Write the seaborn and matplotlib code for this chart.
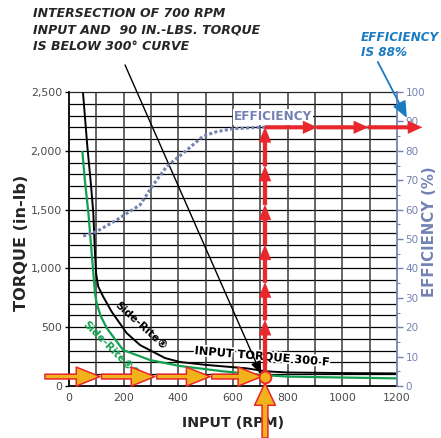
import matplotlib
matplotlib.use("Agg")
import matplotlib.pyplot as plt
import matplotlib.patheffects as pe
import seaborn as sns

sns.set_style("white")
plt.rcParams['font.family'] = ['DejaVu Sans']

# curves
side_rite_rpm = [51, 67, 80, 89, 94, 99, 107, 125, 156, 211, 260, 351, 406, 503, 650, 720, 800, 1000, 1200]
side_rite_torque = [2500, 2040, 1720, 1470, 1180, 960, 845, 760, 632, 450, 348, 238, 204, 179, 150, 125, 115, 110, 107]

side_rite_ct_rpm = [49, 58, 71, 83, 95, 101, 115, 138, 198, 296, 406, 563, 700, 800, 1000, 1200]
side_rite_ct_torque = [1990, 1750, 1470, 1130, 790, 706, 600, 493, 306, 221, 170, 125, 95, 80, 72, 65]

eff_rpm = [52, 100, 175, 193, 260, 308, 357, 424, 491, 540, 600, 700, 800, 1000, 1200]
eff_pct = [51, 52.5, 56.5, 57.6, 61.6, 68.4, 74.6, 79.7, 85, 86.5, 87.5, 88, 88, 88, 88]

# example reading: 700 rpm input, 90 in-lb torque -> 88 % efficiency
point_rpm = 717
point_torque = 80
point_eff = 88
input_arrow_tips = [113, 314, 516, 705]
input_arrow_starts = [-88, 119, 321, 522]
torque_arrow_tips = [560, 880, 1200, 1540, 1870, 2200]
eff_arrow_tips = [907, 1093, 1291]

x_ticks = [0, 200, 400, 600, 800, 1000, 1200]
y_ticks = [0, 500, 1000, 1500, 2000, 2500]
y_tick_labels = ['0', '500', '1,000', '1,500', '2,000', '2,500']
eff_ticks = [0, 10, 20, 30, 40, 50, 60, 70, 80, 90, 100]

slate = '#7382b3'
red = '#e8262b'
orange = '#f2b21b'
blue = '#1b7bc0'
green = '#12a050'

W, H = 441, 438
fig = plt.figure(figsize=(W / 100, H / 100), dpi=100)
renderer = fig.canvas.get_renderer()


def fit(txt, width_px):
    # scale the font so the text spans roughly the width seen on the reference
    rot = txt.get_rotation()
    txt.set_rotation(0)
    w = txt.get_window_extent(renderer).width
    txt.set_fontsize(txt.get_fontsize() * width_px / w)
    txt.set_rotation(rot)
    return txt


# tick label size, from the width of "2,500"
probe = fig.text(0, 0, '2,500', fontsize=10)
tick_size = 10 * 31 / probe.get_window_extent(renderer).width
probe.remove()

ax = fig.add_axes([69 / W, 52 / H, 328 / W, 294 / H])

# chart grid
for t in range(100, 2500, 100):
    ax.axhline(t, color='black', lw=0.9, zorder=1)
for r in range(100, 1200, 100):
    ax.axvline(r, color='#3a3a3a', lw=1.1, zorder=1)

sns.lineplot(x=side_rite_rpm, y=side_rite_torque, ax=ax, color='black', lw=1.4, zorder=3)
sns.lineplot(x=side_rite_ct_rpm, y=side_rite_ct_torque, ax=ax, color=green, lw=1.6, zorder=3)

ax.set_xlim(0, 1200)
ax.set_ylim(0, 2500)
ax.set_xticks(x_ticks)
ax.set_xticks(range(0, 1201, 25), minor=True)
ax.set_yticks(y_ticks)
ax.set_yticklabels(y_tick_labels)
ax.set_xlabel('')
ax.set_ylabel('')
ax.tick_params(axis='both', which='major', labelsize=tick_size, labelcolor='#4a4a4a',
               length=3, width=1, color='black', direction='out', pad=2)
ax.tick_params(axis='x', which='minor', length=2, width=0.8, color='black')
for side in ['left', 'bottom']:
    ax.spines[side].set_color('black')
    ax.spines[side].set_linewidth(1.3)
ax.spines['top'].set_linewidth(0.9)
ax.spines['right'].set_visible(False)

ax2 = ax.twinx()
sns.lineplot(x=eff_rpm, y=eff_pct, ax=ax2, color=slate, lw=2.2,
             linestyle=(0, (1, 0.75)), zorder=3)
ax2.set_ylim(0, 100)
ax2.set_xlim(0, 1200)
ax2.set_yticks(eff_ticks)
ax2.set_yticks(range(0, 101, 5), minor=True)
ax2.set_ylabel('')
ax2.tick_params(axis='y', which='major', labelsize=tick_size * 0.95, colors=slate,
                length=4, width=1, pad=2)
ax2.tick_params(axis='y', which='minor', colors=slate, length=2.5, width=0.8)
for side in ['left', 'bottom', 'top']:
    ax2.spines[side].set_visible(False)
ax2.spines['right'].set_color(slate)
ax2.spines['right'].set_linewidth(1.3)


def arrow(axis, start, end, fc, ec, tail, hw, hl, lw=0.8, z=6):
    axis.annotate('', xy=end, xytext=start, annotation_clip=False, zorder=z,
                  arrowprops=dict(arrowstyle=f'simple,tail_width={tail},head_width={hw},head_length={hl}',
                                  fc=fc, ec=ec, lw=lw, shrinkA=0, shrinkB=0, mutation_scale=10))


# input torque arrows coming from the left
for s, t in zip(input_arrow_starts, input_arrow_tips):
    arrow(ax, (s, point_torque), (t, point_torque), orange, red, 0.34, 1.37, 1.7, lw=1.1)
# input rpm arrow coming from below
arrow(ax, (point_rpm, -442), (point_rpm, 25), orange, red, 0.42, 1.5, 1.6, lw=1.1)

# red arrows up to the efficiency curve
prev = point_torque
for t in torque_arrow_tips:
    arrow(ax, (point_rpm, prev), (point_rpm, t), red, red, 0.28, 0.86, 1.08, lw=0.3)
    prev = t
prev = point_rpm
for t in eff_arrow_tips:
    arrow(ax2, (prev, point_eff), (t, point_eff), red, red, 0.26, 0.9, 1.0, lw=0.3)
    prev = t

ax.plot(point_rpm, point_torque, 'o', ms=8.5, mfc=orange, mec=red, mew=1.3,
        zorder=9, clip_on=False)

# labels on the curves
fit(ax.text(262, 515, 'Side-Rite®', rotation=-42, ha='center', va='center',
            fontsize=10, fontweight='bold', color='black', zorder=4), 66)
fit(ax.text(160, 300, 'Side-Rite®CT', rotation=-45, ha='center', va='center',
            fontsize=10, fontweight='bold', color=green, zorder=4), 80)
fit(ax.text(706, 247, 'INPUT TORQUE 300 F', rotation=-5, ha='center', va='center',
            fontsize=10, fontweight='bold', color='black', zorder=5,
            path_effects=[pe.withStroke(linewidth=2.5, foreground='white')]), 136)
fit(ax2.text(746, 91.5, 'EFFICIENCY', ha='center', va='center', fontsize=10,
             fontweight='bold', color=slate, zorder=5,
             bbox=dict(boxstyle='square,pad=0.1', fc='white', ec='none')), 78)

# call-outs
fit(fig.text(33 / W, 1 - 7 / H, 'INTERSECTION OF 700 RPM\nINPUT AND  90 IN.-LBS. TORQUE\nIS BELOW 300° CURVE',
             ha='left', va='top', fontsize=11, fontweight='bold', style='italic',
             linespacing=1.35), 226)
ax.annotate('', xy=(703, 100), xytext=(205, 2730), annotation_clip=False, zorder=7,
            arrowprops=dict(arrowstyle='-|>,head_length=0.55,head_width=0.22', color='black',
                            lw=1, shrinkA=0, shrinkB=0, mutation_scale=14))
fit(fig.text(361 / W, 1 - 31 / H, 'EFFICIENCY\nIS 88%', ha='left', va='top', color=blue,
             fontsize=11, fontweight='bold', style='italic', linespacing=1.15), 78)
ax2.annotate('', xy=(1236, 91.2), xytext=(1130, 110.2), annotation_clip=False, zorder=7,
             arrowprops=dict(arrowstyle='-|>,head_length=0.7,head_width=0.3', color=blue,
                             lw=1.3, shrinkA=0, shrinkB=0, mutation_scale=14))

# axis titles
fit(fig.text(22 / W, 1 - 243 / H, 'TORQUE (in-lb)', rotation=90, ha='center', va='center',
             fontsize=14, fontweight='bold'), 136)
fit(fig.text(430 / W, 1 - 232 / H, 'EFFICIENCY (%)', rotation=90, ha='center', va='center',
             fontsize=14, fontweight='bold', color=slate), 130)
fit(fig.text(233 / W, 1 - 423 / H, 'INPUT (RPM)', ha='center', va='center',
             fontsize=14, fontweight='bold', zorder=-1), 102)

fig.savefig('out.png', dpi=100)
